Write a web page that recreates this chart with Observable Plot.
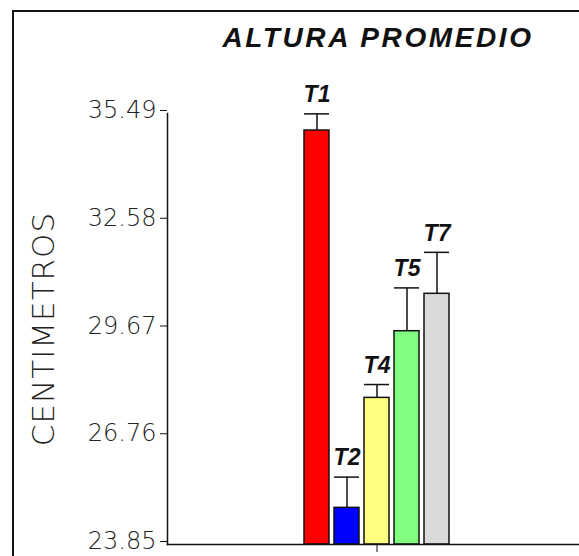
<!DOCTYPE html>
<html><head><meta charset="utf-8">
<script src="https://cdn.jsdelivr.net/npm/d3@7"></script>
<script src="https://cdn.jsdelivr.net/npm/@observablehq/plot@0.6"></script>
<style>
body{margin:0;background:#fff;}
#wrap{position:relative;width:579px;height:556px;overflow:hidden;background:#fff;}
#border{position:absolute;left:12px;top:10px;width:700px;height:700px;border-left:2px solid #111;border-top:2px solid #111;}
#title{position:absolute;left:378px;top:21px;transform:translateX(-50%);white-space:nowrap;font:italic bold 28px "Liberation Sans",Arial,sans-serif;letter-spacing:2.6px;color:#111;line-height:34px;}
#chart{position:absolute;left:0;top:0;width:590px;}
#chart svg{max-width:none !important;}
</style></head><body>
<div id="wrap"><div id="border"></div><div id="chart"></div><div id="title"></div></div>
<script>
const treatments = ["T1", "T2", "T4", "T5", "T7"];
const means = [35.03, 24.84, 27.81, 29.61, 30.62];
const errors = [0.45, 0.83, 0.36, 1.17, 1.12];
const colors = ["#ff0000", "#0000ff", "#ffff80", "#80ff80", "#dadada"];
const yTicks = [23.85, 26.76, 29.67, 32.58, 35.49];
const titleText = "ALTURA PROMEDIO";
const yLabel = "CENTIMETROS";
const groupTick = ["T4"]; // single category tick at the centre of the group

const rows = treatments.map((t, i) => ({t, mean: means[i], upper: means[i] + errors[i], color: colors[i]}));
const yMin = yTicks[0], yMax = yTicks[yTicks.length - 1];

document.getElementById("title").textContent = titleText;

const plot = Plot.plot({
  width: 590, height: 556,
  marginLeft: 167, marginRight: 0, marginTop: 113, marginBottom: 12,
  style: {background: "transparent", overflow: "visible", maxWidth: "none"},
  x: {type: "band", domain: treatments, range: [302, 451], paddingInner: 0.16, paddingOuter: 0, axis: null, label: null},
  y: {domain: [yMin, yMax], axis: null, label: null},
  color: {type: "identity"},
  marks: [
    Plot.barY(rows, {x: "t", y1: yMin, y2: "mean", fill: "color", stroke: "#111", strokeWidth: 1.5}),
    Plot.ruleX(rows, {x: "t", y1: "mean", y2: "upper", stroke: "#111", strokeWidth: 1.5}),
    Plot.tickY(rows, {x: "t", y: "upper", stroke: "#111", strokeWidth: 1.5}),
    Plot.text(rows, {x: "t", y: "upper", text: "t", dy: -19, fontSize: 23, fontWeight: "bold", fontStyle: "italic", fontFamily: "Liberation Sans", fill: "#111"}),
    Plot.frame({anchor: "left", stroke: "#111", strokeWidth: 1.5}),
    Plot.frame({anchor: "bottom", stroke: "#111", strokeWidth: 1.5}),
    Plot.axisY({ticks: yTicks, tickFormat: d => d.toFixed(2), tickSize: 7, tickPadding: 4, dy: -3, fontSize: 24, fontFamily: "DejaVu Sans", fontWeight: 200, stroke: "#111", fill: "#222", label: null}),
    Plot.axisX(groupTick, {tickSize: 8, tickFormat: () => "", stroke: "#111", label: null}),
    Plot.text([yLabel], {frameAnchor: "left", dx: -123, rotate: -90, textAnchor: "middle", text: d => d, fontSize: 31, fontWeight: 200, fontFamily: "DejaVu Sans", fill: "#222"})
  ]
});
document.getElementById("chart").appendChild(plot);
d3.select(plot).selectAll("text").filter(function() { return this.textContent === yLabel; }).style("letter-spacing", "1px");
</script>
</body></html>
